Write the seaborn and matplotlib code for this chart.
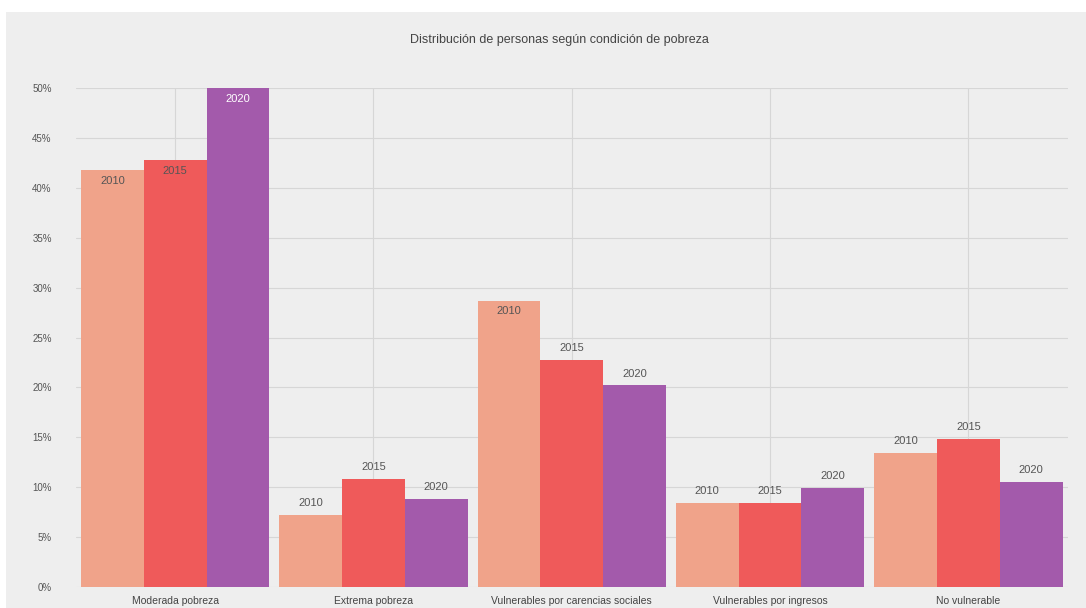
import pandas as pd
import matplotlib.pyplot as plt
import seaborn as sns
from matplotlib.patches import Rectangle

# Data
categorias = ['Moderada pobreza', 'Extrema pobreza', 'Vulnerables por carencias sociales',
              'Vulnerables por ingresos', 'No vulnerable']
anios = ['2010', '2015', '2020']
v2010 = [41.8, 7.2, 28.7, 8.4, 13.4]
v2015 = [42.8, 10.8, 22.8, 8.4, 14.8]
v2020 = [50.0, 8.8, 20.2, 9.9, 10.5]
yticks = [0, 5, 10, 15, 20, 25, 30, 35, 40, 45, 50]

colores = ['#f0a38a', '#ef5a5a', '#a35aab']

df = pd.DataFrame({
    'categoria': categorias * 3,
    'anio': sum([[a] * len(categorias) for a in anios], []),
    'valor': v2010 + v2015 + v2020,
})

sns.set_style('whitegrid')
plt.rcParams['font.family'] = ['Liberation Sans', 'DejaVu Sans']

fig = plt.figure(figsize=(10.86, 6.08), dpi=100)
fig.patch.set_facecolor('white')
# gray card behind the chart
fig.patches.append(Rectangle((6 / 1086, 0), 1, (608 - 12) / 608, transform=fig.transFigure,
                             facecolor='#eeeeee', edgecolor='none', zorder=-5))

ax = fig.add_axes([0.070, 0.0345, 0.913, 0.8205])
ax.set_zorder(2)
ax.set_facecolor('#eeeeee')

sns.barplot(data=df, x='categoria', y='valor', hue='anio', palette=colores,
            width=0.95, saturation=1, legend=False, ax=ax, zorder=3, linewidth=0)

# labels: inside top for tall bars, above otherwise
for cont, anio in zip(ax.containers, anios):
    for i, bar in enumerate(cont):
        h = bar.get_height()
        xc = bar.get_x() + bar.get_width() / 2
        inside = i == 0 or (i == 2 and anio == '2010')
        color = 'white' if (i == 0 and anio == '2020') else '#555555'
        if inside:
            ax.annotate(anio, (xc, h), xytext=(0, -4), textcoords='offset points',
                        ha='center', va='top', fontsize=8, color=color, zorder=4)
        else:
            ax.annotate(anio, (xc, h), xytext=(0, 5), textcoords='offset points',
                        ha='center', va='bottom', fontsize=8, color=color, zorder=4)

ax.set_ylim(0, 50)
ax.set_xlim(-0.5, 4.5)
ax.set_yticks(yticks)
ax.set_yticklabels([f'{t}%' for t in yticks], fontsize=7, color='#555555')
ax.tick_params(axis='x', labelsize=7.5, labelcolor='#444444', pad=3)
ax.tick_params(axis='y', pad=14)
ax.set_xlabel('')
ax.set_ylabel('')
ax.grid(True, color='#d6d6d6', linewidth=0.8)
ax.set_axisbelow(True)
for s in ax.spines.values():
    s.set_visible(False)

fig.text(0.515, 0.935, 'Distribución de personas según condición de pobreza',
         ha='center', va='center', fontsize=9, color='#444444')

fig.savefig('out.png', dpi=100)
